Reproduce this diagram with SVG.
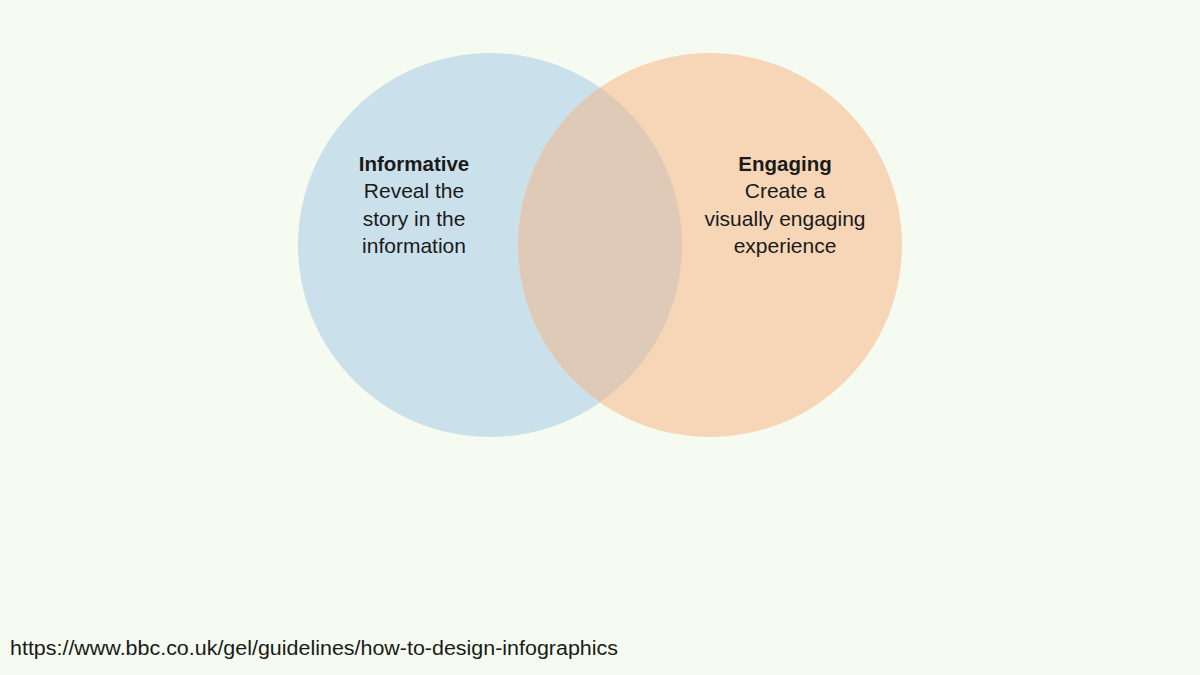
<svg xmlns="http://www.w3.org/2000/svg" width="1200" height="675" viewBox="0 0 1200 675">
<style>
.t{font-family:"Liberation Sans",Arial,sans-serif;font-size:21px;fill:#1a1a1a;text-anchor:middle}
.b{font-weight:bold;font-size:20.5px}
.u{font-family:"Liberation Sans",Arial,sans-serif;font-size:20px;fill:#1a1a1a}
</style>
<defs>
<clipPath id="cl"><circle cx="490" cy="245" r="192"/></clipPath>
</defs>
<rect width="1200" height="675" fill="#F5FBF0"/>
<g id="informative">
<circle cx="490" cy="245" r="192" fill="#CAE0EA"/>
</g>
<g id="engaging">
<circle cx="710" cy="245" r="192" fill="#F6D6B7"/>
</g>
<g id="overlap">
<circle cx="710" cy="245" r="192" fill="#DFCAB7" clip-path="url(#cl)"/>
</g>
<g id="informative-text">
<text class="t b" x="414" y="171">Informative</text>
<text class="t" x="414" y="198">Reveal the</text>
<text class="t" x="414" y="226">story in the</text>
<text class="t" x="414" y="253">information</text>
</g>
<g id="engaging-text">
<text class="t b" x="785" y="171">Engaging</text>
<text class="t" x="785" y="198">Create a</text>
<text class="t" x="785" y="226">visually engaging</text>
<text class="t" x="785" y="253">experience</text>
</g>
<text class="u" x="10" y="655" textLength="608" lengthAdjust="spacingAndGlyphs">https://www.bbc.co.uk/gel/guidelines/how-to-design-infographics</text>
</svg>
